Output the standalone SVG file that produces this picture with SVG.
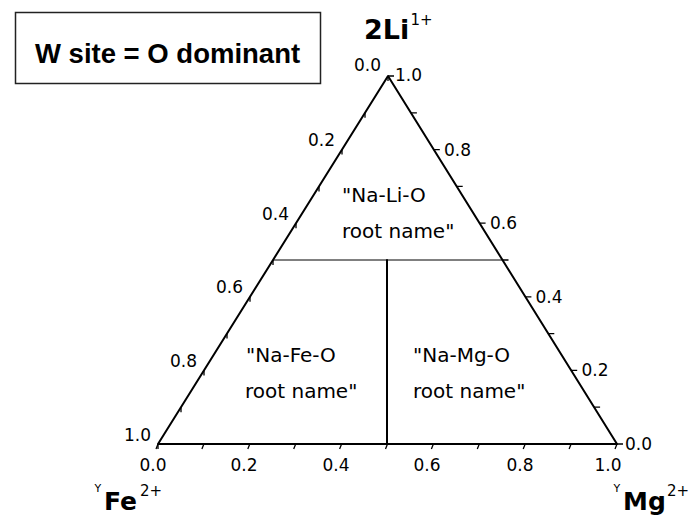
<svg xmlns="http://www.w3.org/2000/svg" width="694" height="515" viewBox="0 0 694 515">
<style>
  .edge{stroke:#000;stroke-width:2;fill:none;stroke-linecap:round;stroke-linejoin:round}
  .thin{stroke:#000;stroke-width:1;fill:none}
  .tick{stroke:#000;stroke-width:1.3;fill:none}
  .tl{font-family:"DejaVu Sans",Verdana,sans-serif;font-size:17px;fill:#000}
  .rl{font-family:"DejaVu Sans",Verdana,sans-serif;font-size:20px;fill:#000}
  .ax{font-family:"DejaVu Sans",Verdana,sans-serif;font-weight:bold;fill:#000}
  .sup{font-family:"DejaVu Sans",Verdana,sans-serif;fill:#000}
</style>
<rect width="694" height="515" fill="#fff"/>

<g id="title-box">
  <rect x="15.5" y="12.5" width="305" height="71" fill="#fff" stroke="#222" stroke-width="1.5"/>
  <text x="35" y="63" font-family="'Liberation Sans',Arial,sans-serif" font-weight="bold" font-size="27.5">W site = O dominant</text>
</g>

<g id="triangle">
  <polygon class="edge" points="388,76 158,444 617,444"/>
  <line class="thin" x1="273" y1="260" x2="502.5" y2="260"/>
  <line class="edge" x1="387" y1="260" x2="387" y2="444"/>
</g>

<g id="ticks-left">
  <path class="tick" d="M388,76v5 M365,112.8v5 M342,149.6v5 M319,186.4v5 M296,223.2v5 M273,260v5 M250,296.8v5 M227,333.6v5 M204,370.4v5 M181,407.2v5 M158,444v5"/>
</g>
<g id="ticks-right">
  <path class="tick" d="M388,76h6 M410.9,112.8h6 M433.8,149.6h6 M456.7,186.4h6 M479.6,223.2h6 M502.5,260h6 M525.4,296.8h6 M548.3,333.6h6 M571.2,370.4h6 M594.1,407.2h6 M617,444h6"/>
</g>
<g id="ticks-bottom">
  <path class="tick" d="M158,444l-2,5 M203.9,444l-2,5 M249.8,444l-2,5 M295.7,444l-2,5 M341.6,444l-2,5 M387.5,444l-2,5 M433.4,444l-2,5 M479.3,444l-2,5 M525.2,444l-2,5 M571.1,444l-2,5 M617,444l-2,5"/>
</g>

<g id="labels-left" class="tl" text-anchor="end">
  <text x="381" y="71">0.0</text>
  <text x="335" y="146">0.2</text>
  <text x="289" y="219.5">0.4</text>
  <text x="243" y="293">0.6</text>
  <text x="197" y="367">0.8</text>
  <text x="151" y="440.5">1.0</text>
</g>
<g id="labels-right" class="tl">
  <text x="395" y="81">1.0</text>
  <text x="444" y="155.5">0.8</text>
  <text x="490" y="229">0.6</text>
  <text x="535.5" y="302.5">0.4</text>
  <text x="581.5" y="376">0.2</text>
  <text x="625" y="450">0.0</text>
</g>
<g id="labels-bottom" class="tl" text-anchor="middle">
  <text x="153" y="471">0.0</text>
  <text x="244" y="471">0.2</text>
  <text x="336" y="471">0.4</text>
  <text x="427" y="471">0.6</text>
  <text x="520" y="471">0.8</text>
  <text x="608" y="471">1.0</text>
</g>

<g id="region-li" class="rl">
  <text x="342" y="201.5">"Na-Li-O</text>
  <text x="342" y="237.5">root name"</text>
</g>
<g id="region-fe" class="rl">
  <text x="246" y="361.5">"Na-Fe-O</text>
  <text x="245" y="398">root name"</text>
</g>
<g id="region-mg" class="rl">
  <text x="413" y="361.5">"Na-Mg-O</text>
  <text x="413" y="398">root name"</text>
</g>

<g id="apex-li">
  <text class="ax" x="364" y="38.5" font-size="27">2Li</text>
  <text class="sup" x="410.5" y="24.5" font-size="15">1+</text>
</g>
<g id="apex-fe">
  <text class="sup" x="94.5" y="492" font-size="11">Y</text>
  <text class="ax" x="104" y="510" font-size="25">Fe</text>
  <text class="sup" x="140" y="495.5" font-size="15">2+</text>
</g>
<g id="apex-mg">
  <text class="sup" x="613.5" y="492" font-size="11">Y</text>
  <text class="ax" x="623" y="510" font-size="25">Mg</text>
  <text class="sup" x="667" y="495.5" font-size="15">2+</text>
</g>
</svg>
